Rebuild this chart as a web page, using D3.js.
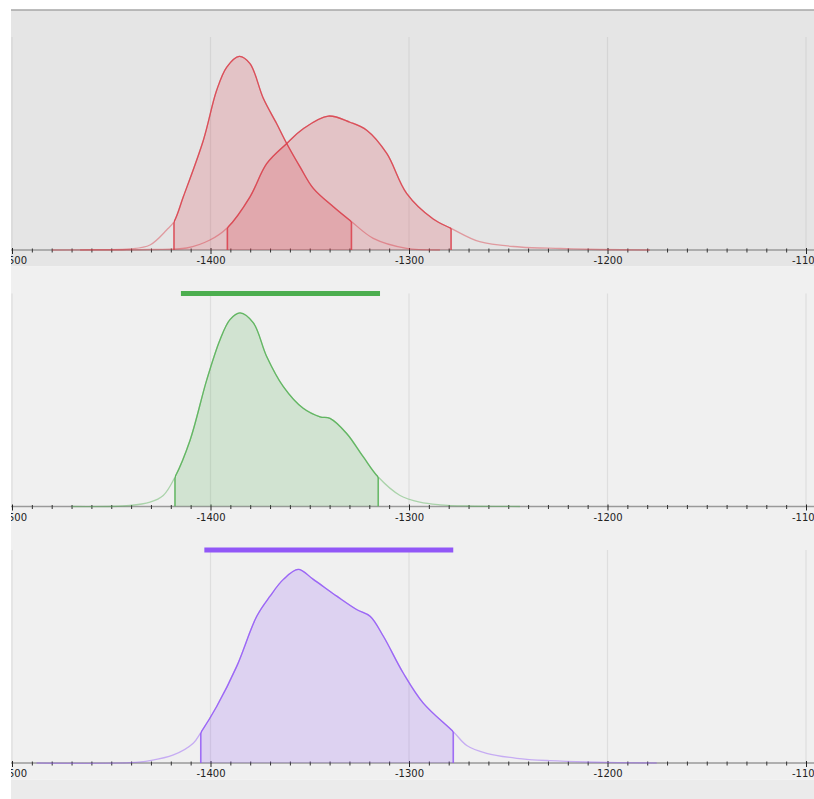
<!DOCTYPE html>
<html>
<head>
<meta charset="utf-8">
<script src="https://cdn.jsdelivr.net/npm/d3@7"></script>
<style>
  html, body { margin: 0; padding: 0; background: #ffffff; }
  svg { display: block; }
</style>
</head>
<body>
<svg id="chart" width="814" height="799"></svg>
<script>
// ---------- data ----------
const xDomain = [-1500, -1100];
const majorTicks = [-1500, -1400, -1300, -1200, -1100];
const tickLabels = ["-1500", "-1400", "-1300", "-1200", "-1100"];

// panel 1 : two posterior densities (value, relative density)
const redA = [
  [-1479.8, 0], [-1455.7, 0.3], [-1440.6, 1], [-1430.5, 5], [-1422.1, 20],
  [-1418.4, 28.3], [-1413.7, 53.3], [-1403.6, 110], [-1396.9, 160], [-1391.8, 183.3],
  [-1385.5, 194], [-1380.1, 186.7], [-1373.4, 152], [-1366.7, 126.7], [-1361.6, 106.7],
  [-1354.9, 83.3], [-1348.2, 61.7], [-1338.1, 43.3], [-1328.9, 28.3], [-1318.0, 11.7],
  [-1301.2, 1.7], [-1284.4, 0]
];
const redB = [
  [-1465.7, 0], [-1430.5, 0.5], [-1412.0, 2], [-1400.3, 10], [-1391.5, 22.3],
  [-1380.1, 53.3], [-1371.7, 86.5], [-1361.6, 106.7], [-1353.3, 121.5], [-1340.7, 134.2],
  [-1329.7, 128], [-1321.3, 120], [-1311.2, 96.7], [-1301.2, 56.7], [-1287.8, 31],
  [-1278.8, 21.7], [-1264.4, 8.3], [-1244.1, 3], [-1223.9, 1.5], [-1203.8, 0.5],
  [-1178.6, 0]
];
const hdiRedA = [-1418.4, -1329.0];
const hdiRedB = [-1391.5, -1278.8];

// panel 2
const green = [
  [-1469.9, 0], [-1440.6, 1], [-1430.5, 4.3], [-1423.8, 11], [-1417.9, 29.3],
  [-1410.3, 66], [-1401.9, 126], [-1395.2, 166], [-1390.2, 186], [-1385.1, 192.7],
  [-1378.4, 182.7], [-1371.7, 149.3], [-1363.3, 119.3], [-1353.3, 97.7], [-1344.8, 89.3],
  [-1339.8, 87.7], [-1331.4, 72.7], [-1323.0, 49.3], [-1315.5, 29.3], [-1304.5, 11],
  [-1294.5, 4.3], [-1284.4, 1.7], [-1270.9, 0.5], [-1244.1, 0]
];
const hdiGreen = [-1417.9, -1315.5];
const barGreen = [-1414.9, -1314.6];

// panel 3
const purple = [
  [-1487.6, 0], [-1440.6, 0.3], [-1430.5, 2.3], [-1418.7, 8], [-1408.7, 19.7],
  [-1404.9, 30.3], [-1396.9, 56.3], [-1386.8, 96.3], [-1376.7, 146.3], [-1370.0, 166.3],
  [-1363.3, 183], [-1355.8, 193], [-1348.2, 183], [-1336.4, 166.3], [-1326.4, 153],
  [-1319.6, 146.3], [-1312.9, 126.3], [-1302.9, 89.7], [-1292.8, 59.7], [-1277.7, 31.3],
  [-1270.9, 17.5], [-1260.9, 9.7], [-1245.7, 4.7], [-1229.0, 2.3], [-1210.5, 1],
  [-1175.2, 0]
];
const hdiPurple = [-1404.9, -1277.7];
const barPurple = [-1403.1, -1277.7];

// ---------- layout ----------
const W = 814, H = 799;
const leftEdge = 11;
const panelTops = [10, 266.5, 523];
const panelH = 256.5;
const plotTopOff = 27, axisOff = 240;
const panelBgs = ["#e5e5e5", "#f0f0f0", "#f0f0f0"];
const gridCols = ["#d5d5d5", "#dedede", "#dedede"];

const svg = d3.select("#chart");
const defs = svg.append("defs");
defs.append("clipPath").attr("id", "frameClip")
  .append("rect").attr("x", leftEdge).attr("y", 0).attr("width", W - leftEdge).attr("height", H);

const root = svg.append("g").attr("clip-path", "url(#frameClip)");

const x = d3.scaleLinear().domain(xDomain).range([12, 806]);
const allMinor = d3.range(-1500, -1090, 10).filter(v => v % 100 !== 0);

// bottom strip
root.append("rect").attr("x", leftEdge).attr("y", panelTops[2] + panelH)
  .attr("width", W - leftEdge).attr("height", H - panelTops[2] - panelH).attr("fill", "#ebebeb");

const panels = [
  { curves: [
      { data: redA, hdi: hdiRedA, color: "rgb(218,62,74)" },
      { data: redB, hdi: hdiRedB, color: "rgb(218,62,74)" }
    ], bar: null },
  { curves: [ { data: green, hdi: hdiGreen, color: "rgb(84,176,84)" } ],
    bar: { range: barGreen, color: "#4cae4f" } },
  { curves: [ { data: purple, hdi: hdiPurple, color: "rgb(146,88,246)" } ],
    bar: { range: barPurple, color: "#9157f7" } }
];

const curveType = d3.curveCatmullRom.alpha(0.5);

panels.forEach((p, i) => {
  const top = panelTops[i];
  const plotTop = top + plotTopOff;
  const axisY = top + axisOff;
  const g = root.append("g");

  g.append("rect").attr("x", leftEdge).attr("y", top).attr("width", W - leftEdge)
    .attr("height", panelH).attr("fill", panelBgs[i]);

  // grid lines
  g.selectAll("line.grid").data(majorTicks).join("line")
    .attr("x1", d => x(d)).attr("x2", d => x(d))
    .attr("y1", plotTop).attr("y2", axisY)
    .attr("stroke", gridCols[i]).attr("stroke-width", 1.2);

  const maxD = d3.max(p.curves, c => d3.max(c.data, d => d[1]));
  const y = d3.scaleLinear().domain([0, maxD * 1.1]).range([axisY, plotTop]);

  // axis line
  g.append("line").attr("x1", leftEdge).attr("x2", W).attr("y1", axisY).attr("y2", axisY)
    .attr("stroke", "#9a9a9a").attr("stroke-width", 1.5);

  // minor ticks
  const minorAxis = d3.axisBottom(x).tickValues(allMinor).tickSize(4).tickFormat("").tickSizeOuter(0);
  const ma = g.append("g").attr("transform", `translate(0,${axisY - 1.5})`).call(minorAxis);
  ma.select(".domain").remove();
  ma.selectAll(".tick line").attr("stroke", "#333").attr("stroke-width", 1);

  // major ticks + labels
  const majorAxis = d3.axisBottom(x).tickValues(majorTicks).tickSize(6).tickSizeOuter(0)
    .tickFormat((d, k) => tickLabels[k]);
  const mj = g.append("g").attr("transform", `translate(0,${axisY - 2})`).call(majorAxis);
  mj.select(".domain").remove();
  mj.selectAll(".tick line").attr("stroke", "#222").attr("stroke-width", 1);
  mj.selectAll(".tick text").attr("y", 9).attr("dy", "0.71em")
    .attr("font-family", "DejaVu Sans, sans-serif").attr("font-size", 10).attr("fill", "#222");

  const yc = d => Math.min(axisY, y(d[1]));
  const area = d3.area().x(d => x(d[0])).y0(axisY).y1(d => y(d[1])).curve(curveType);
  const line = d3.line().x(d => x(d[0])).y(d => y(d[1])).curve(curveType);

  p.curves.forEach((c, j) => {
    const cid = `hdi-${i}-${j}`;
    defs.append("clipPath").attr("id", cid).append("rect")
      .attr("x", x(c.hdi[0])).attr("y", plotTop - 20)
      .attr("width", x(c.hdi[1]) - x(c.hdi[0])).attr("height", axisY - plotTop + 20);
    const aid = `area-${i}-${j}`;
    defs.append("clipPath").attr("id", aid).append("path").attr("d", area(c.data));

    // filled HDI area
    g.append("path").attr("d", area(c.data)).attr("fill", c.color).attr("fill-opacity", 0.2)
      .attr("clip-path", `url(#${cid})`);
    // faint full line
    g.append("path").attr("d", line(c.data)).attr("fill", "none").attr("stroke", c.color)
      .attr("stroke-opacity", 0.45).attr("stroke-width", 1.3);
    // strong line inside HDI
    g.append("path").attr("d", line(c.data)).attr("fill", "none").attr("stroke", c.color)
      .attr("stroke-opacity", 0.8).attr("stroke-width", 1.3).attr("clip-path", `url(#${cid})`);
    // HDI edges (clipped to the area shape)
    g.append("g").attr("clip-path", `url(#${aid})`)
      .selectAll("line").data(c.hdi).join("line")
      .attr("x1", d => x(d)).attr("x2", d => x(d))
      .attr("y1", plotTop).attr("y2", axisY)
      .attr("stroke", c.color).attr("stroke-opacity", 0.85).attr("stroke-width", 1.6);
  });

  if (p.bar) {
    g.append("line").attr("x1", x(p.bar.range[0])).attr("x2", x(p.bar.range[1]))
      .attr("y1", plotTop).attr("y2", plotTop)
      .attr("stroke", p.bar.color).attr("stroke-width", 5);
  }
});

// top border
root.append("line").attr("x1", leftEdge).attr("x2", W).attr("y1", 10).attr("y2", 10)
  .attr("stroke", "#a6a6a6").attr("stroke-width", 1.5);
</script>
</body>
</html>
